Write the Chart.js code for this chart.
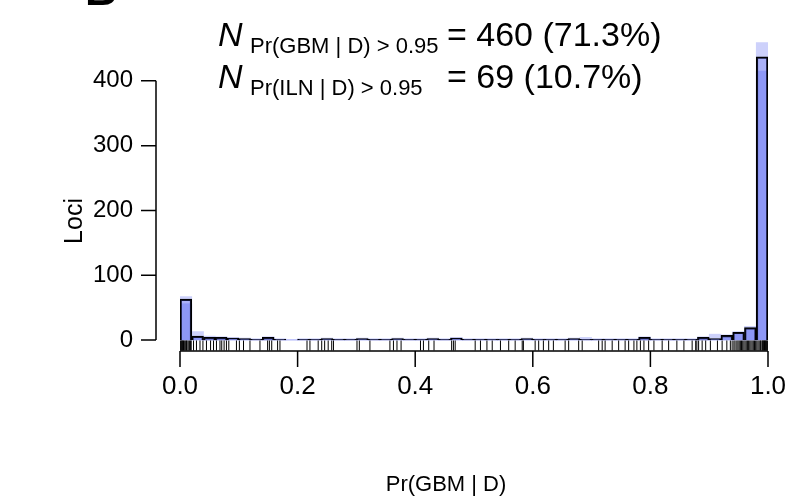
<!DOCTYPE html>
<html>
<head>
<meta charset="utf-8">
<script src="https://cdn.jsdelivr.net/npm/chart.js@4"></script>
<style>
  html, body { margin: 0; padding: 0; background: #fff; }
  #wrap { width: 794px; height: 502px; position: relative; }
</style>
</head>
<body>
<div id="wrap"><canvas id="chart" width="794" height="502"></canvas></div>
<script>
// histogram bins of Pr(GBM | D), width 0.02
const binCenters = [0.01,0.03,0.05,0.07,0.09,0.11,0.13,0.15,0.17,0.19,
  0.21,0.23,0.25,0.27,0.29,0.31,0.33,0.35,0.37,0.39,
  0.41,0.43,0.45,0.47,0.49,0.51,0.53,0.55,0.57,0.59,
  0.61,0.63,0.65,0.67,0.69,0.71,0.73,0.75,0.77,0.79,
  0.81,0.83,0.85,0.87,0.89,0.91,0.93,0.95,0.97,0.99];
const counts = [63,6,4,4,3,2,1,4,1,0, 1,1,2,1,1,2,1,1,2,1, 1,2,1,3,1,1,1,1,1,2,
  1,1,1,2,1,1,1,1,1,4, 1,1,1,1,4,2,7,12,19,437];
// uncertainty band (upper / lower)
const bandHi = [67,13,6,5,4,3,2,5,2,1, 2,2,3,2,2,3,2,2,3,2, 2,3,2,4,2,2,2,2,2,3,
  2,2,2,3,4,2,2,2,2,5, 2,2,2,2,5,9,8,13,21,459];
const bandLo = [56,4,3,3,2,1,0,3,0,0, 0,0,1,0,0,1,0,0,1,0, 0,1,0,2,0,0,0,0,0,1,
  0,0,0,1,0,0,0,0,0,3, 0,0,0,0,3,1,6,10,17,415];
// rug of individual loci
const rugValues = [0.001,0.002,0.003,0.004,0.005,0.006,0.008,0.009,0.011,0.012,0.014,0.016,0.018,0.019,
  0.023,0.028,0.034,0.039,0.045,0.052,0.057,0.062,0.068,0.071,0.075,0.079,0.083,
  0.096,0.101,0.108,0.119,0.136,0.149,0.152,0.156,0.166,0.170,
  0.216,0.221,0.235,0.241,0.246,0.252,0.258,0.261,0.301,0.305,0.323,
  0.357,0.363,0.369,0.376,0.409,0.414,0.423,0.432,0.462,0.465,0.468,
  0.502,0.511,0.522,0.531,0.545,0.559,0.570,0.582,0.584,0.604,0.610,0.618,0.627,0.635,
  0.655,0.661,0.678,0.684,0.712,0.718,0.723,0.735,0.746,0.757,0.763,0.772,0.777,0.783,
  0.789,0.797,0.806,0.820,0.831,0.845,0.857,0.871,0.877,0.879,0.882,0.888,0.894,
  0.902,0.914,0.922,0.930,0.936,0.939,0.942,0.944,0.947,0.949,0.951,0.953,0.955,0.957,
  0.959,0.961,0.963,0.965,0.967,0.969,0.971,0.973,0.975,0.977,0.979,0.981,0.983,0.985,
  0.987,0.988,0.990,0.991,0.992,0.993,0.994,0.995,0.996,0.997,0.998,0.999];
const xTicks = [0, 0.2, 0.4, 0.6, 0.8, 1.0];
const yTicks = [0, 100, 200, 300, 400];

const FONT = '"Liberation Sans", Arial, Helvetica, sans-serif';

const rAxes = {
  id: 'rAxes',
  afterDraw(chart) {
    const ctx = chart.ctx;
    const xs = chart.scales.x, ys = chart.scales.y;
    const ca = chart.chartArea;
    ctx.save();
    ctx.strokeStyle = '#000';
    ctx.lineWidth = 1.5;
    // y axis
    const ax = 156;
    ctx.beginPath();
    ctx.moveTo(ax, ys.getPixelForValue(yTicks[0]));
    ctx.lineTo(ax, ys.getPixelForValue(yTicks[yTicks.length - 1]));
    yTicks.forEach(v => {
      const p = ys.getPixelForValue(v);
      ctx.moveTo(ax, p);
      ctx.lineTo(ax - 15, p);
    });
    // x axis
    const ay = ca.bottom;
    ctx.moveTo(xs.getPixelForValue(xTicks[0]), ay);
    ctx.lineTo(xs.getPixelForValue(xTicks[xTicks.length - 1]), ay);
    xTicks.forEach(v => {
      const p = xs.getPixelForValue(v);
      ctx.moveTo(p, ay);
      ctx.lineTo(p, ay + 16);
    });
    ctx.stroke();

    // axis titles
    ctx.fillStyle = '#000';
    ctx.textAlign = 'center';
    ctx.textBaseline = 'middle';
    ctx.font = '22px ' + FONT;
    ctx.fillText('Pr(GBM | D)', 446, 485);
    ctx.font = '25px ' + FONT;
    ctx.save();
    ctx.translate(75, 221);
    ctx.rotate(-Math.PI / 2);
    ctx.fillText('Loci', 0, 0);
    ctx.restore();

    // panel letter (cut off at top)
    ctx.font = 'bold 44px ' + FONT;
    ctx.textAlign = 'left';
    ctx.textBaseline = 'alphabetic';
    ctx.fillText('B', 85, 5);

    // annotations
    const lines = [
      {sub: 'Pr(GBM | D) > 0.95', rest: '= 460 (71.3%)', y: 46},
      {sub: 'Pr(ILN | D) > 0.95', rest: '= 69 (10.7%)', y: 88}
    ];
    lines.forEach(l => {
      ctx.font = 'italic 34px ' + FONT;
      ctx.fillText('N', 218, l.y);
      ctx.font = '22px ' + FONT;
      ctx.fillText(l.sub, 250, l.y + 7);
      ctx.font = '34px ' + FONT;
      ctx.fillText(l.rest, 447, l.y);
    });
    ctx.restore();
  }
};

new Chart(document.getElementById('chart'), {
  type: 'bar',
  data: {
    datasets: [
      {
        label: 'Observed',
        data: binCenters.map((x, i) => ({x: x, y: counts[i]})),
        backgroundColor: 'rgba(80, 92, 240, 0.28)',
        borderColor: '#000',
        borderWidth: 1.5,
        borderSkipped: 'bottom',
        order: 1
      },
      {
        label: 'Lower',
        data: binCenters.map((x, i) => ({x: x, y: bandLo[i]})),
        backgroundColor: '#a6adf8',
        borderWidth: 0,
        order: 2
      },
      {
        label: 'Upper',
        data: binCenters.map((x, i) => ({x: x, y: bandHi[i]})),
        backgroundColor: '#cdd1fb',
        borderWidth: 0,
        order: 3
      },
      {
        type: 'scatter',
        label: 'Rug',
        data: rugValues.map(v => ({x: v, y: -8.5})),
        pointStyle: 'line',
        rotation: 90,
        radius: 5,
        borderColor: '#000',
        borderWidth: 1,
        order: 0
      }
    ]
  },
  options: {
    responsive: false,
    animation: false,
    devicePixelRatio: 1,
    layout: {padding: {top: 42, right: 26, bottom: 0, left: 0}},
    plugins: {legend: {display: false}, tooltip: {enabled: false}},
    datasets: {bar: {grouped: false, barPercentage: 1, categoryPercentage: 1}},
    scales: {
      x: {
        type: 'linear',
        min: 0, max: 1,
        offset: false,
        grid: {display: false},
        border: {display: false},
        afterBuildTicks: s => { s.ticks = xTicks.map(v => ({value: v})); },
        afterFit: s => { s.height = 151; s.paddingLeft = 0; s.paddingRight = 0; },
        ticks: {
          padding: 12,
          color: '#000',
          font: {family: FONT, size: 26},
          maxRotation: 0,
          callback: v => v.toFixed(1)
        }
      },
      y: {
        min: -17, max: 460,
        grid: {display: false},
        border: {display: false},
        afterBuildTicks: s => { s.ticks = yTicks.map(v => ({value: v})); },
        afterFit: s => { s.width = 180; s.paddingTop = 0; s.paddingBottom = 0; },
        ticks: {
          padding: 39,
          color: '#000',
          font: {family: FONT, size: 24}
        }
      }
    }
  },
  plugins: [rAxes]
});
</script>
</body>
</html>
